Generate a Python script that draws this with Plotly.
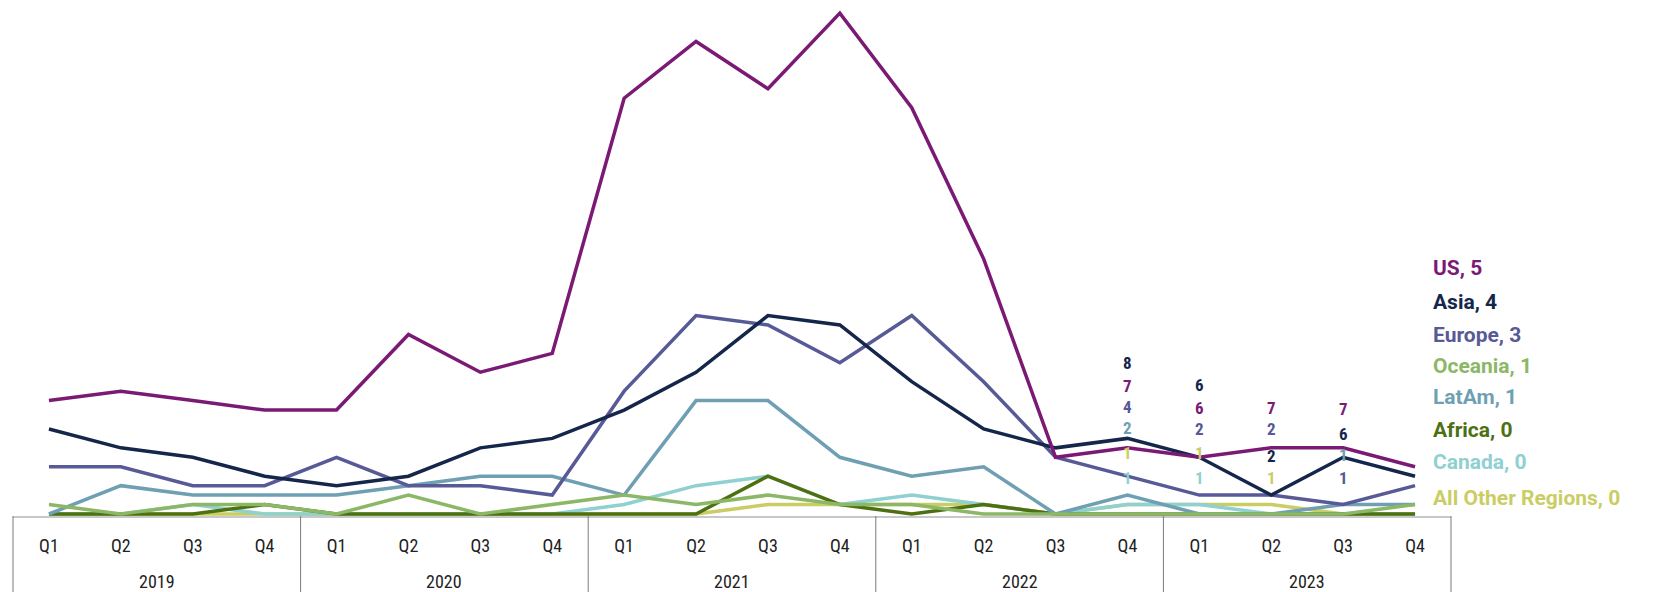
import plotly.graph_objects as go

quarters = ["Q1", "Q2", "Q3", "Q4"] * 5
years = ["2019", "2020", "2021", "2022", "2023"]

us      = [12, 13, 12, 11, 11, 19, 15, 17, 44, 50, 45, 53, 43, 27, 6, 7, 6, 7, 7, 5]
asia    = [9, 7, 6, 4, 3, 4, 7, 8, 11, 15, 21, 20, 14, 9, 7, 8, 6, 2, 6, 4]
europe  = [5, 5, 3, 3, 6, 3, 3, 2, 13, 21, 20, 16, 21, 14, 6, 4, 2, 2, 1, 3]
oceania = [1, 0, 1, 1, 0, 2, 0, 1, 2, 1, 2, 1, 1, 0, 0, 0, 0, 0, 0, 1]
latam   = [0, 3, 2, 2, 2, 3, 4, 4, 2, 12, 12, 6, 4, 5, 0, 2, 0, 0, 1, 1]
africa  = [0, 0, 0, 1, 0, 0, 0, 0, 0, 0, 4, 1, 0, 1, 0, 0, 0, 0, 0, 0]
canada  = [0, 0, 1, 0, 0, 0, 0, 0, 1, 3, 4, 1, 2, 1, 0, 1, 1, 0, 0, 0]
other   = [0, 0, 0, 0, 0, 0, 0, 0, 0, 0, 1, 1, 1, 1, 0, 1, 1, 1, 0, 0]

series = [
    ("All Other Regions", other, "#c9cd63"),
    ("Canada", canada, "#8fd0d0"),
    ("Africa", africa, "#4d7011"),
    ("LatAm", latam, "#6f9fb3"),
    ("Oceania", oceania, "#8cb766"),
    ("Europe", europe, "#575a96"),
    ("Asia", asia, "#15264b"),
    ("US", us, "#7b1a74"),
]
colors = {n: c for n, _, c in series}
values = {n: v for n, v, _ in series}
legend_order = ["US", "Asia", "Europe", "Oceania", "LatAm", "Africa", "Canada", "All Other Regions"]

# value labels: (quarter index, series, vertical page position)
value_labels = [
    (15, "Asia", 363), (15, "US", 386), (15, "Europe", 407), (15, "LatAm", 428),
    (15, "All Other Regions", 453), (15, "Canada", 478),
    (16, "Asia", 385), (16, "US", 408), (16, "Europe", 429),
    (16, "All Other Regions", 453), (16, "Canada", 478),
    (17, "US", 408), (17, "Europe", 429), (17, "Asia", 456), (17, "All Other Regions", 478),
    (18, "US", 409), (18, "Asia", 434), (18, "LatAm", 455), (18, "Europe", 478),
]
legend_page_y = [268, 302, 335, 366, 397, 430, 462, 498]

OFF = 8  # page offset of the figure (body margin)
W, H = 1656, 592
ML, MT, MB = 5, 0, 84
PW = 1438
MR = W - ML - PW
PH = H - MT - MB
PX_PER_UNIT = 9.45
y0 = -2 / PX_PER_UNIT
y1 = y0 + PH / PX_PER_UNIT

def page_to_paper_y(py):
    return (MT + PH - (py - OFF)) / PH

x = list(range(len(quarters)))
fig = go.Figure()
for name, vals, col in series:
    fig.add_trace(go.Scatter(x=x, y=vals, mode="lines", name=name,
                             line=dict(color=col, width=3.5), showlegend=False))

annotations = []
num_font = "Roboto, sans-serif"
narrow = "Liberation Sans Narrow, Arial Narrow, Roboto Condensed, Roboto, sans-serif"
for qi, name, py in value_labels:
    annotations.append(dict(x=qi, y=page_to_paper_y(py), xref="x", yref="paper",
                            text="<b>%d</b>" % values[name][qi], showarrow=False,
                            font=dict(family=narrow, size=17, color=colors[name]),
                            xanchor="center", yanchor="middle"))

for name, py in zip(legend_order, legend_page_y):
    annotations.append(dict(x=(1423 - ML) / PW, y=page_to_paper_y(py),
                            xref="paper", yref="paper",
                            text="<b>%s, %d</b>" % (name, values[name][-1]), showarrow=False,
                            font=dict(family=num_font, size=21, color=colors[name]),
                            xanchor="left", yanchor="middle"))

for k, yr in enumerate(years):
    annotations.append(dict(x=4 * k + 1.5, y=page_to_paper_y(581), xref="x", yref="paper",
                            text=yr, showarrow=False,
                            font=dict(family=narrow, size=18, color="#222222"),
                            xanchor="center", yanchor="middle"))

shapes = []
for k in range(6):
    xp = (4 * k) / 20
    shapes.append(dict(type="line", xref="paper", yref="paper", x0=xp, x1=xp,
                       y0=0, y1=-0.3, line=dict(color="#7a7a7a", width=1)))

fig.update_layout(
    width=W, height=H,
    margin=dict(l=ML, r=MR, t=MT, b=MB, autoexpand=False),
    plot_bgcolor="white", paper_bgcolor="white",
    annotations=annotations, shapes=shapes,
    xaxis=dict(range=[-0.5, 19.5], tickvals=x, ticktext=quarters, showgrid=False,
               zeroline=False, showline=True, linecolor="#c8c8c8", linewidth=2,
               ticks="", ticklabelstandoff=12, automargin=False,
               tickfont=dict(family=narrow, size=18, color="#222222")),
    yaxis=dict(range=[y0, y1], visible=False, showgrid=False, zeroline=False),
)
fig.write_html("out.html")
